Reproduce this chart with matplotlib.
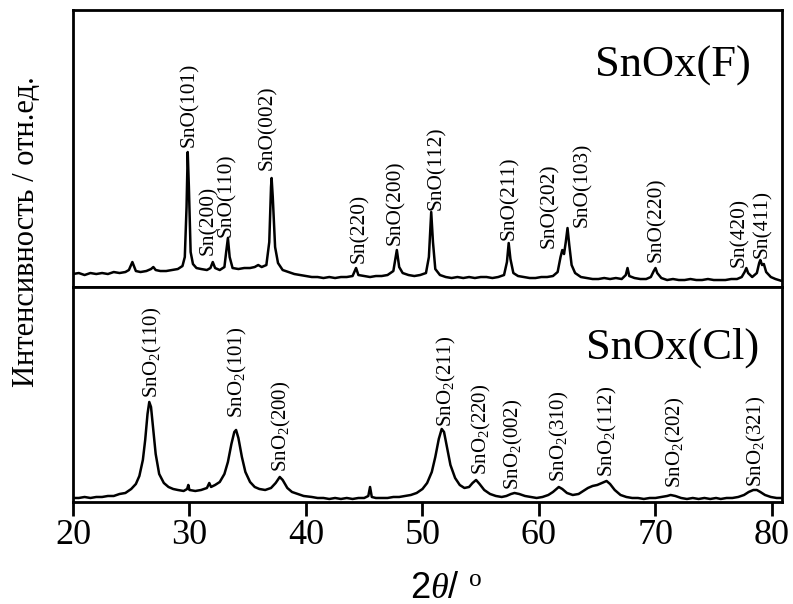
import matplotlib
matplotlib.use("Agg")
import matplotlib.pyplot as plt

plt.rcParams['font.family'] = ['Liberation Serif', 'DejaVu Serif']
plt.rcParams['mathtext.fontset'] = 'custom'
plt.rcParams['mathtext.rm'] = 'Liberation Serif'
plt.rcParams['mathtext.it'] = 'Liberation Serif:italic'

# SnOx(F) pattern (arb. units)
f_two_theta = [
    20.0, 20.5, 21.0, 21.5, 22.0, 22.5, 23.0, 23.5, 24.0, 24.5, 24.8, 25.1, 25.4, 25.8,
    26.3, 26.7, 26.9, 27.1, 27.5, 28.0, 28.5, 29.0, 29.4, 29.6, 29.75, 29.85, 29.95, 30.1,
    30.3, 30.6, 31.0, 31.5, 31.8, 32.0, 32.2, 32.6, 33.0, 33.15, 33.3, 33.45, 33.7, 34.2,
    34.7, 35.2, 35.6, 35.9, 36.2, 36.6, 36.85, 37.0, 37.05, 37.15, 37.35, 37.6, 38.0, 38.5,
    39.0, 39.5, 40.0, 40.5, 41.0, 41.5, 42.0, 42.5, 43.0, 43.5, 44.0, 44.3, 44.5, 45.0,
    45.5, 46.0, 46.5, 47.0, 47.5, 47.8, 48.0, 48.3, 48.8, 49.3, 49.8, 50.3, 50.55, 50.75,
    50.9, 51.1, 51.5, 52.0, 52.5, 53.0, 53.5, 54.0, 54.5, 55.0, 55.5, 56.0, 56.5, 57.0,
    57.25, 57.4, 57.55, 57.8, 58.2, 58.7, 59.2, 59.7, 60.2, 60.7, 61.2, 61.6, 61.85, 62.0,
    62.15, 62.3, 62.45, 62.6, 62.8, 63.1, 63.6, 64.1, 64.6, 65.1, 65.6, 66.1, 66.6, 67.1,
    67.45, 67.6, 67.75, 68.2, 68.7, 69.2, 69.6, 69.85, 70.0, 70.15, 70.5, 71.0, 71.5, 72.0,
    72.5, 73.0, 73.5, 74.0, 74.5, 75.0, 75.5, 76.0, 76.5, 77.0, 77.4, 77.65, 77.8, 77.95,
    78.3, 78.7, 78.9, 79.0, 79.15, 79.3, 79.5, 79.9, 80.3, 80.85,
]
f_intensity = [
    13, 14, 12, 14, 13, 14, 13, 15, 14, 15, 17, 25, 16, 15,
    16, 18, 20, 17, 16, 16, 17, 18, 21, 30, 80, 135, 100, 35,
    23, 19, 18, 17, 19, 25, 19, 17, 20, 35, 49, 30, 19, 18,
    19, 19, 20, 22, 20, 22, 45, 100, 109, 90, 40, 24, 17, 15,
    13, 12, 11, 10, 10, 9, 10, 9, 10, 10, 11, 19, 12, 11,
    10, 11, 11, 12, 16, 37, 20, 14, 12, 11, 12, 14, 30, 75,
    45, 18, 12, 10, 9, 10, 9, 10, 9, 10, 10, 9, 10, 12,
    25, 44, 28, 14, 11, 10, 9, 9, 10, 10, 11, 15, 30, 37,
    33, 45, 59, 42, 22, 14, 10, 9, 8, 8, 9, 8, 9, 8,
    12, 19, 11, 9, 8, 8, 10, 16, 19, 14, 9, 7, 8, 7,
    7, 8, 7, 7, 8, 7, 7, 7, 8, 8, 10, 15, 19, 14,
    10, 14, 24, 27, 22, 23, 15, 10, 8, 6,
]

# SnOx(Cl) pattern
cl_two_theta = [
    20.0, 20.5, 21.0, 21.5, 22.0, 22.5, 23.0, 23.5, 24.0, 24.5, 25.0, 25.4, 25.7, 26.0,
    26.2, 26.4, 26.55, 26.7, 26.9, 27.1, 27.4, 27.8, 28.2, 28.6, 29.0, 29.5, 29.8, 29.9,
    30.0, 30.5, 31.0, 31.5, 31.7, 31.85, 32.2, 32.6, 33.0, 33.3, 33.6, 33.85, 34.0, 34.2,
    34.5, 34.8, 35.2, 35.6, 36.0, 36.5, 37.0, 37.4, 37.75, 38.0, 38.4, 38.8, 39.3, 39.8,
    40.5, 41.0, 41.5, 42.0, 42.5, 43.0, 43.5, 44.0, 44.5, 45.0, 45.35, 45.5, 45.65, 46.0,
    46.5, 47.0, 47.5, 48.0, 48.5, 49.0, 49.5, 50.0, 50.4, 50.8, 51.1, 51.4, 51.65, 51.85,
    52.1, 52.4, 52.8, 53.2, 53.6, 54.0, 54.3, 54.6, 54.9, 55.3, 55.8, 56.3, 56.8, 57.2,
    57.6, 57.9, 58.3, 58.8, 59.3, 59.8, 60.3, 60.8, 61.2, 61.5, 61.7, 62.0, 62.4, 62.9,
    63.4, 63.8, 64.2, 64.6, 65.0, 65.4, 65.8, 66.1, 66.5, 67.0, 67.5, 68.0, 68.5, 69.0,
    69.5, 70.0, 70.5, 71.0, 71.3, 71.7, 72.2, 72.7, 73.2, 73.7, 74.2, 74.7, 75.2, 75.6,
    76.1, 76.6, 77.1, 77.6, 78.0, 78.4, 78.7, 79.0, 79.4, 79.9, 80.4, 80.85,
]
cl_intensity = [
    4, 4, 5, 4, 5, 5, 6, 6, 8, 9, 13, 18, 26, 42,
    62, 88, 100, 95, 72, 48, 28, 19, 15, 13, 12, 11, 13, 17,
    12, 11, 12, 14, 19, 15, 17, 20, 28, 40, 58, 70, 72, 64,
    45, 30, 20, 15, 13, 12, 14, 19, 25, 22, 14, 10, 8, 6,
    5, 4, 4, 3, 4, 3, 4, 3, 4, 4, 6, 15, 5, 4,
    4, 4, 5, 5, 6, 7, 9, 13, 19, 30, 45, 63, 73, 70,
    55, 37, 24, 17, 14, 15, 19, 22, 18, 12, 8, 6, 5, 6,
    8, 9, 8, 6, 5, 4, 5, 7, 10, 13, 15, 13, 9, 7,
    8, 11, 14, 16, 17, 19, 21, 18, 12, 7, 5, 4, 4, 3,
    4, 4, 5, 6, 7, 6, 4, 3, 4, 3, 4, 3, 4, 3,
    4, 4, 5, 7, 10, 12, 12, 10, 7, 5, 4, 4,
]

f_labels = ['SnO(101)', 'Sn(200)', 'SnO(110)', 'SnO(002)', 'Sn(220)', 'SnO(200)',
            'SnO(112)', 'SnO(211)', 'SnO(202)', 'SnO(103)', 'SnO(220)', 'Sn(420)',
            'Sn(411)']
f_label_x = [30.0, 31.6, 33.2, 36.7, 44.6, 47.7, 51.2, 57.5, 60.9, 63.7, 70.1, 77.25, 79.2]
f_label_y = [140, 32, 50, 117, 24, 42, 77, 47, 39, 60, 25, 20, 29]

cl_labels = ['SnO$_2$(110)', 'SnO$_2$(101)', 'SnO$_2$(200)', 'SnO$_2$(211)',
             'SnO$_2$(220)', 'SnO$_2$(002)', 'SnO$_2$(310)', 'SnO$_2$(112)',
             'SnO$_2$(202)', 'SnO$_2$(321)']
cl_label_x = [26.8, 34.1, 37.9, 52.1, 55.1, 57.8, 61.8, 65.9, 71.7, 78.7]
cl_label_y = [104, 84, 30, 75, 27, 12, 20, 25, 14, 15]

x_ticks = [20, 30, 40, 50, 60, 70, 80]

fig = plt.figure(figsize=(7.93, 6.04), dpi=100)
ax_f = fig.add_axes([0.092, 0.5248, 0.894, 0.4586])
ax_cl = fig.add_axes([0.092, 0.1689, 0.894, 0.356])

for ax in (ax_f, ax_cl):
    ax.set_xlim(20, 80.85)
    ax.set_yticks([])
    for s in ax.spines.values():
        s.set_linewidth(2)

ax_f.plot(f_two_theta, f_intensity, color='black', lw=1.8)
ax_f.set_ylim(0, 277)
ax_f.set_xticks([])
for lab, x, y in zip(f_labels, f_label_x, f_label_y):
    ax_f.text(x, y, lab, rotation=90, ha='center', va='bottom', fontsize=15.4)
ax_f.text(0.846, 0.80, 'SnOx(F)', transform=ax_f.transAxes, ha='center', va='center',
          fontsize=32)

ax_cl.plot(cl_two_theta, cl_intensity, color='black', lw=1.8)
ax_cl.set_ylim(0, 215)
ax_cl.set_xticks(x_ticks)
ax_cl.tick_params(axis='x', direction='out', length=10, width=2, pad=2, labelsize=26)
for lab, x, y in zip(cl_labels, cl_label_x, cl_label_y):
    ax_cl.text(x, y, lab, rotation=90, ha='center', va='bottom', fontsize=15)
ax_cl.text(0.846, 0.716, 'SnOx(Cl)', transform=ax_cl.transAxes, ha='center', va='center',
           fontsize=32)

fig.text(0.033, 1 - 232 / 604, 'Интенсивность / отн.ед.', rotation=90,
         ha='center', va='center', fontsize=22)
fig.text(446 / 793, 1 - 588 / 604, r'2$\theta$/ $^{\mathrm{o}}$', ha='center', va='center',
         fontsize=26, family=['Liberation Sans', 'DejaVu Sans'])

fig.savefig('out.png', dpi=100)
